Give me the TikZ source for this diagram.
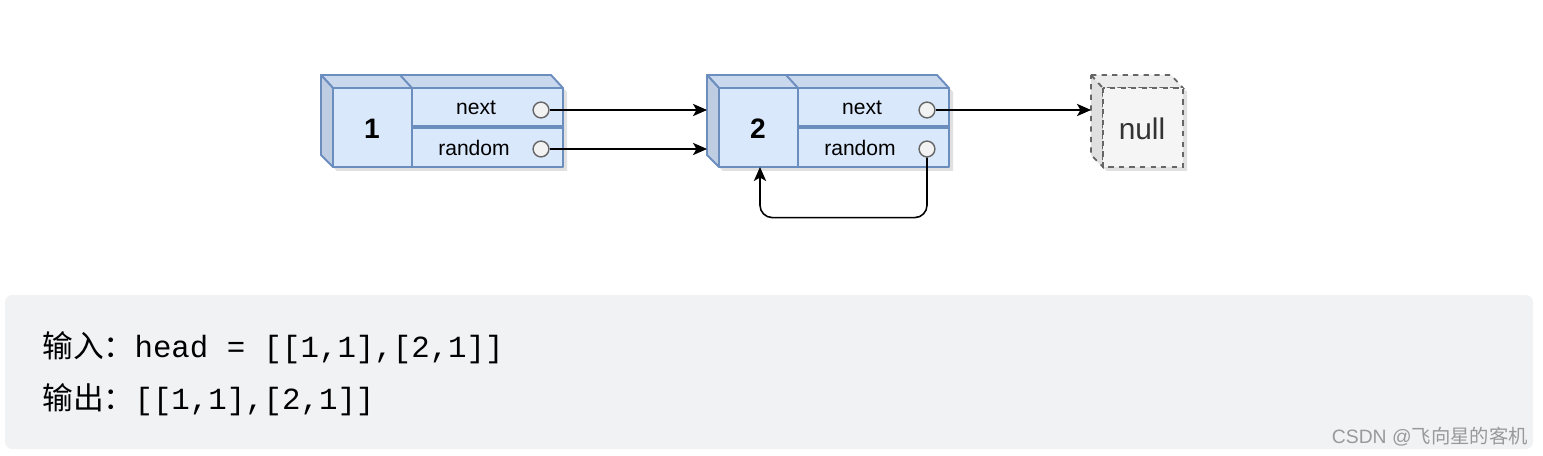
\documentclass[tikz,border=0pt]{standalone}
\usepackage{fontspec}
\setmainfont{Liberation Sans}
\setmonofont{Liberation Mono}
\newfontfamily\cjk{Noto Sans CJK SC}
\usetikzlibrary{arrows.meta}
\definecolor{boxfill}{HTML}{DAE8FC}
\definecolor{boxline}{HTML}{6C8EBF}
\definecolor{boxtop}{HTML}{CAD8EE}
\definecolor{boxside}{HTML}{BFCDE3}
\definecolor{nullfill}{HTML}{F5F5F5}
\definecolor{nullside}{HTML}{E0E0E0}
\definecolor{nullline}{HTML}{666666}
\definecolor{codebg}{HTML}{F1F2F4}
\tikzset{
  face/.style={draw=boxline,line width=1.1pt,line join=round},
  shade/.style={fill=black,opacity=0.12},
  port/.style={circle,draw=black!60,fill=black!5,line width=0.8pt,minimum size=9pt,inner sep=0pt},
  field/.style={font=\fontsize{12}{14}\selectfont},
  num/.style={font=\bfseries\fontsize{16}{18}\selectfont},
  link/.style={-{Stealth[length=8pt,width=7pt,inset=2pt]},line width=0.9pt},
}

\begin{document}
\begin{tikzpicture}[x=0.02cm,y=-0.02cm]
\useasboundingbox (0,0) rectangle (1543,456);
%list nodes 1 and 2
\foreach \pfx/\dx/\val in {a/0/1,b/386/2}{
\begin{scope}[shift={(\dx,0)},name prefix=\pfx-]
%shadow
\fill[shade](324,79)--(554,79)--(567,92)--(567,171)--(337,171)--(324,159)--cycle;
%top and left faces
\draw[face,fill=boxtop](321,75)--(551,75)--(563,88)--(333,88)--cycle;
\draw[face,fill=boxside](321,75)--(333,88)--(333,167)--(321,155)--cycle;
\draw[face](400,75)--(412,88);
%front face
\draw[face,fill=boxfill](333,88)rectangle(563,167);
\draw[face](412,88)--(412,167);
\draw[face,line width=1.8pt](412,127)--(563,127);
%labels
\node[num](val)at(372,129){\val};
\node[field](nxt)at(476,108){next};
\node[field](rnd)at(474,148){random};
\node[port](pn)at(541,110){};
\node[port](pr)at(541,149){};
\coordinate(inN)at(321,110);
\coordinate(inR)at(321,149);
\coordinate(bot)at(374,167);
\end{scope}
}
%null node
\fill[shade](1094,79)--(1174,79)--(1187,92)--(1187,171)--(1107,171)--(1094,159)--cycle;
\draw[dashed,draw=nullline,line width=1pt,fill=nullside](1091,75)--(1103,88)--(1103,167)--(1091,155)--cycle;
\draw[dashed,draw=nullline,line width=1pt,fill=nullside!60](1091,75)--(1171,75)--(1183,88)--(1103,88)--cycle;
\draw[dashed,draw=nullline,line width=1pt,fill=nullfill](1103,88)rectangle(1183,167);
\node[font=\fontsize{17}{19}\selectfont,text=black!80](null)at(1142,129){null};
\coordinate(nullin)at(1091,110);
%pointers
\draw[link](a-pn)--(b-inN);
\draw[link](a-pr)--(b-inR);
\draw[link](b-pn)--(nullin);
\draw[link,rounded corners=7pt](b-pr.south)--++(0,60)-|(b-bot);
%example box
\fill[codebg,rounded corners=4pt](5,295)rectangle(1533,449);
\begin{scope}[font=\fontsize{17.5}{20}\selectfont]
\node[anchor=base west,inner sep=0pt](inp)at(42,357){{\cjk 输入：}\texttt{head = [[1,1],[2,1]]}};
\node[anchor=base west,inner sep=0pt](outp)at(42,409){{\cjk 输出：}\texttt{[[1,1],[2,1]]}};
\end{scope}
\node[anchor=base east,inner sep=0pt,text=black!40,font=\fontsize{11}{13}\selectfont](mark)at(1528,443){CSDN @{\cjk 飞向星的客机}};
\end{tikzpicture}
\end{document}
